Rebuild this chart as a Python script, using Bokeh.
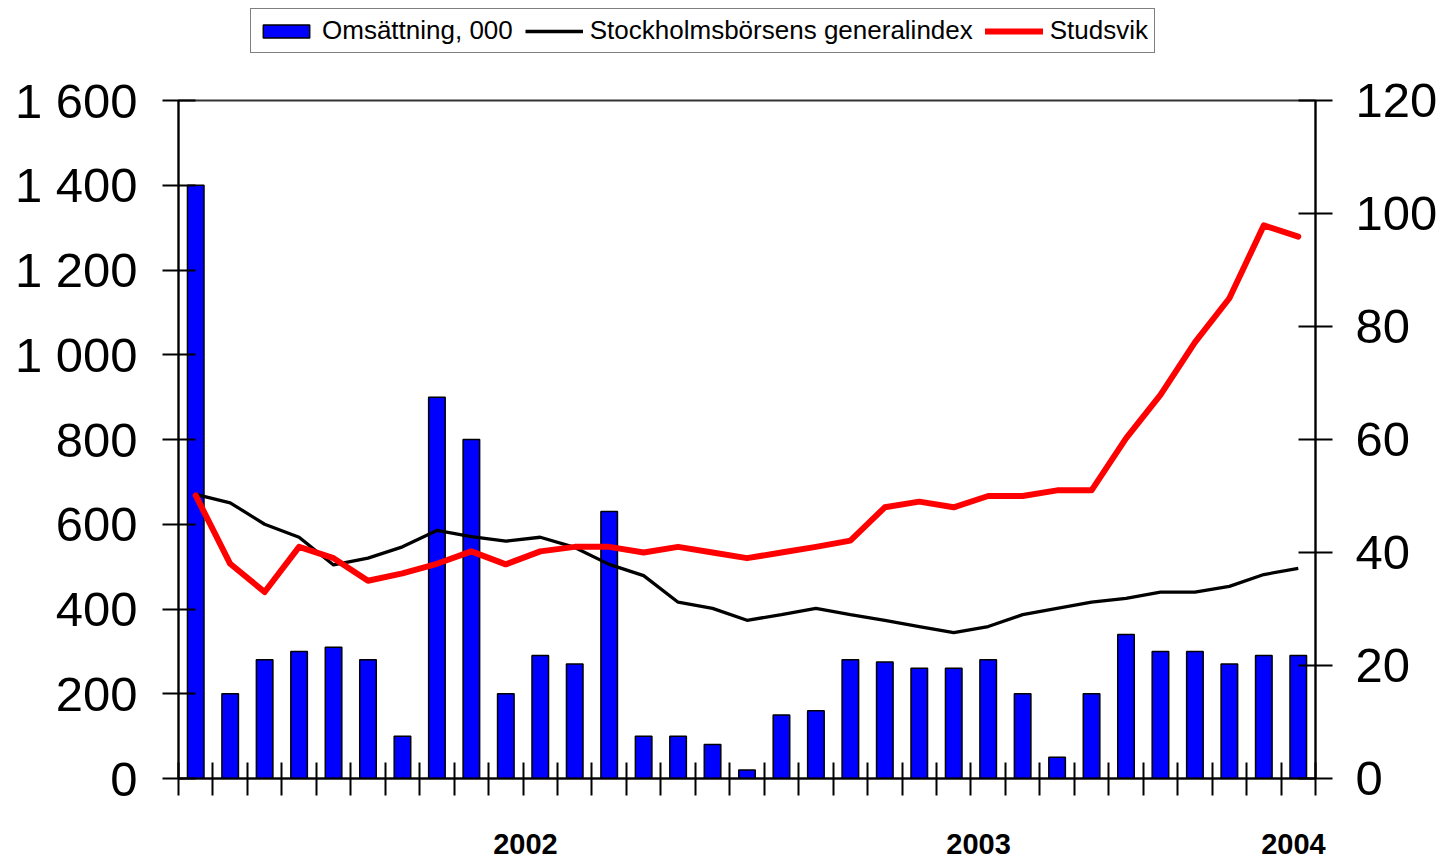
from bokeh.plotting import figure
from bokeh.layouts import column
from bokeh.models import (ColumnDataSource, LinearAxis, Range1d, FixedTicker,
                          Legend, LegendItem)
from bokeh.embed import file_html
from bokeh.resources import INLINE

# ---- data ----
turnover = [1400, 200, 280, 300, 310, 280, 100, 900, 800, 200, 290, 270, 630,
            100, 100, 80, 20, 150, 160, 280, 275, 260, 260, 280, 200, 50, 200,
            340, 300, 300, 270, 290, 290]
index_sx = [50.3, 48.8, 45.0, 42.7, 37.8, 39.0, 41.0, 43.9, 42.8, 42.0, 42.7,
            40.9, 37.9, 35.9, 31.2, 30.1, 28.0, 29.0, 30.1, 29.0, 28.0, 26.9,
            25.8, 26.9, 29.0, 30.1, 31.2, 31.9, 33.0, 33.0, 34.0, 36.1, 37.2]
studsvik = [50.1, 38.0, 33.0, 41.0, 39.0, 35.0, 36.3, 38.0, 40.2, 37.9, 40.2,
            41.0, 41.0, 40.0, 41.0, 40.0, 39.0, 40.0, 41.0, 42.1, 48.0, 49.0,
            48.0, 50.0, 50.0, 51.0, 51.0, 60.2, 67.9, 77.2, 85.0, 97.9, 95.9]
year_labels = ["2002", "2003", "2004"]
year_pos = [10.07, 23.22, 32.36]
left_ticks = [0, 200, 400, 600, 800, 1000, 1200, 1400, 1600]
left_tick_labels = ["0", "200", "400", "600", "800", "1 000", "1 200", "1 400", "1 600"]
right_ticks = [0, 20, 40, 60, 80, 100, 120]
legend_labels = ["Omsättning, 000", "Stockholmsbörsens generalindex", "Studsvik"]

n = len(turnover)
xs = [i + 0.5 for i in range(n)]
src = ColumnDataSource(dict(x=xs, turnover=turnover, index_sx=index_sx, studsvik=studsvik))

FONT = "Liberation Sans"
BAR_STYLE = dict(fill_color="#0000ff", line_color="black", line_width=1.5)
IDX_STYLE = dict(line_color="black", line_width=3.3)
ST_STYLE = dict(line_color="#ff0000", line_width=6, line_join="round", line_cap="round")

W = 1440
LEG_H = 56

# ---- legend strip: its own small figure above the chart. Its frame is aligned
#      with the chart's frame by the column layout; the proxy renderers that the
#      legend needs are scaled so that they sit entirely under the opaque legend box. ----
pl = figure(width=W, height=LEG_H, output_backend="svg", toolbar_location=None,
            x_range=Range1d(-5, 45), y_range=Range1d(-400, 2000),
            x_axis_location=None, y_axis_location=None,
            min_border_left=0, min_border_right=0, min_border_top=0, min_border_bottom=0)
pl.xgrid.visible = False
pl.ygrid.visible = False
pl.outline_line_color = None
pl.border_fill_color = "white"
pl.background_fill_color = "white"
g_bar = pl.vbar(x="x", top="turnover", width=0.48, source=src, **BAR_STYLE)
g_idx = pl.line(x="x", y="index_sx", source=src, **IDX_STYLE)
g_st = pl.line(x="x", y="studsvik", source=src, **ST_STYLE)
legend = Legend(items=[LegendItem(label=legend_labels[0], renderers=[g_bar]),
                       LegendItem(label=legend_labels[1], renderers=[g_idx]),
                       LegendItem(label=legend_labels[2], renderers=[g_st])],
                orientation="horizontal", location=(72, LEG_H - 53),
                label_text_font=FONT, label_text_font_size="26px",
                label_text_color="black",
                glyph_width=58, glyph_height=16, label_standoff=7,
                spacing=12, padding=6, margin=0,
                border_line_color="black", border_line_width=1.5,
                background_fill_color="white", background_fill_alpha=1)
pl.add_layout(legend, "center")

# ---- main chart ----
p = figure(width=W, height=858 - LEG_H, output_backend="svg", toolbar_location=None,
           x_range=Range1d(0, n), y_range=Range1d(0, 1600),
           min_border_left=178, min_border_right=W - 1315,
           min_border_top=100 - LEG_H, min_border_bottom=80)
p.extra_y_ranges = {"right": Range1d(0, 120)}
p.xgrid.visible = False
p.ygrid.visible = False
p.outline_line_color = "#333333"
p.outline_line_width = 2
p.background_fill_color = "white"
p.border_fill_color = "white"

p.vbar(x="x", top="turnover", width=0.48, source=src, **BAR_STYLE)
p.line(x="x", y="index_sx", source=src, y_range_name="right", **IDX_STYLE)
p.line(x="x", y="studsvik", source=src, y_range_name="right", **ST_STYLE)

# x axis: year labels as major ticks, period boundaries as minor ticks
xa = p.xaxis[0]
xa.ticker = FixedTicker(ticks=year_pos, minor_ticks=list(range(n + 1)))
xa.major_label_overrides = {pos: lab for pos, lab in zip(year_pos, year_labels)}
xa.major_label_text_font = FONT
xa.major_label_text_font_size = "29px"
xa.major_label_text_font_style = "bold"
xa.major_label_text_color = "black"
xa.major_label_standoff = 38
xa.major_tick_in = 0
xa.major_tick_out = 0
xa.minor_tick_in = 16
xa.minor_tick_out = 17
xa.minor_tick_line_width = 2
xa.minor_tick_line_color = "black"
xa.axis_line_width = 2
xa.axis_line_color = "black"

# left axis
ya = p.yaxis[0]
ya.ticker = FixedTicker(ticks=left_ticks)
ya.major_label_overrides = {t: s for t, s in zip(left_ticks, left_tick_labels)}
ya.major_label_text_font = FONT
ya.major_label_text_font_size = "49px"
ya.major_label_text_color = "black"
ya.major_label_standoff = 25
ya.major_tick_in = 17
ya.major_tick_out = 16
ya.major_tick_line_width = 2
ya.axis_line_width = 2
ya.minor_tick_line_color = None

# right axis
ra = LinearAxis(y_range_name="right", ticker=FixedTicker(ticks=right_ticks))
ra.major_label_text_font = FONT
ra.major_label_text_font_size = "49px"
ra.major_label_text_color = "black"
ra.major_label_standoff = 23
ra.major_tick_in = 17
ra.major_tick_out = 17
ra.major_tick_line_width = 2
ra.axis_line_width = 2
ra.minor_tick_line_color = None
p.add_layout(ra, "right")

layout = column(pl, p, spacing=0)
open("out.html", "w").write(file_html(layout, INLINE))
